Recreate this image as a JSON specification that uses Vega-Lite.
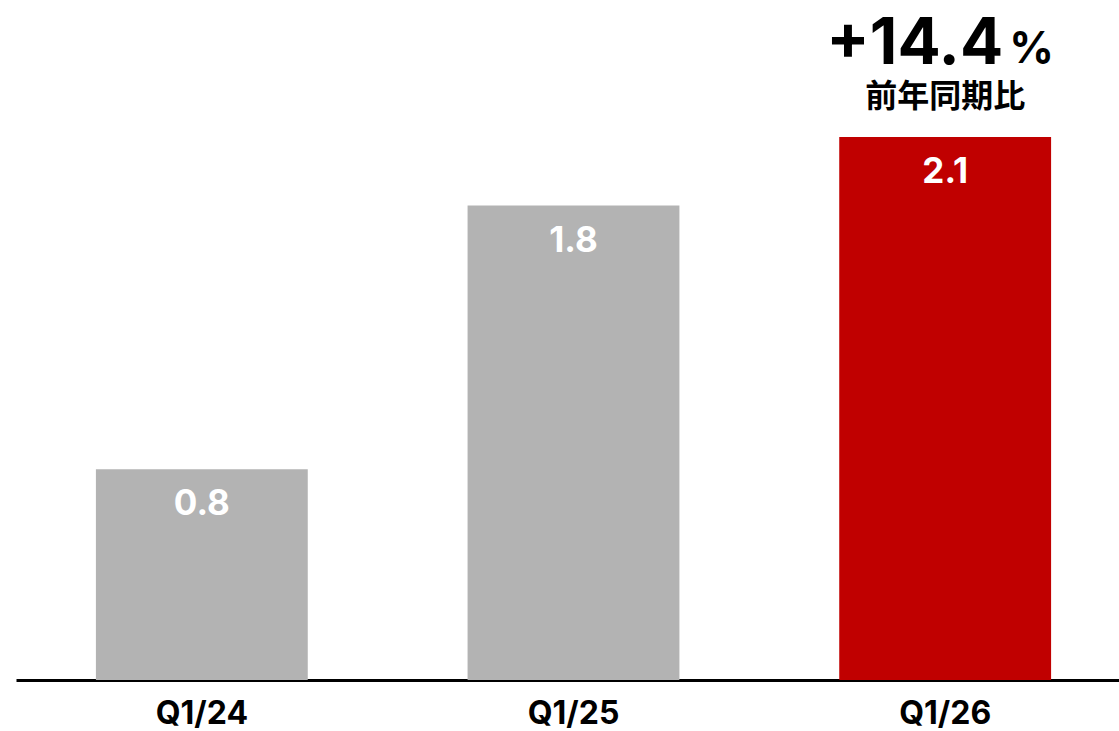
{
  "$schema": "https://vega.github.io/schema/vega-lite/v6.json",
  "width": 1115,
  "height": 680,
  "autosize": {"type": "none"},
  "padding": {"left": 16, "top": 0, "right": 0, "bottom": 51},
  "background": "white",
  "config": {"view": {"stroke": null}, "font": "Inter"},
  "data": {
    "values": [
      {"quarter": "Q1/24", "value": 0.8, "label": "0.8", "highlight": "no", "change": "", "pct": "", "note": ""},
      {"quarter": "Q1/25", "value": 1.8, "label": "1.8", "highlight": "no", "change": "", "pct": "", "note": ""},
      {"quarter": "Q1/26", "value": 2.06, "label": "2.1", "highlight": "yes", "change": "+14.4", "pct": "%", "note": "前年同期比"}
    ]
  },
  "encoding": {
    "x": {
      "field": "quarter",
      "type": "nominal",
      "sort": null,
      "scale": {"paddingInner": 0.43, "paddingOuter": 0.215},
      "axis": {
        "title": null,
        "labelAngle": 0,
        "ticks": false,
        "domainColor": "black",
        "domainWidth": 3,
        "labelFontSize": 32,
        "labelFontWeight": "bold",
        "labelColor": "black",
        "labelBaseline": "alphabetic",
        "labelPadding": 43,
        "labelFont": "Inter"
      }
    },
    "y": {
      "field": "value",
      "type": "quantitative",
      "scale": {"domain": [0, 2.58], "nice": false, "zero": true},
      "axis": null
    }
  },
  "layer": [
    {
      "mark": {"type": "bar"},
      "encoding": {
        "color": {
          "field": "highlight",
          "type": "nominal",
          "scale": {"domain": ["no", "yes"], "range": ["#b3b3b3", "#c00000"]},
          "legend": null
        }
      }
    },
    {
      "mark": {"type": "text", "color": "white", "fontSize": 35, "fontWeight": "bold", "baseline": "top", "dy": 18},
      "encoding": {"text": {"field": "label"}}
    },
    {
      "transform": [{"filter": "datum.highlight == 'yes'"}],
      "mark": {"type": "text", "color": "black", "fontSize": 64, "fontWeight": "bold", "align": "right", "baseline": "alphabetic", "dx": 58, "dy": -73},
      "encoding": {"text": {"field": "change"}}
    },
    {
      "transform": [{"filter": "datum.highlight == 'yes'"}],
      "mark": {"type": "text", "color": "black", "fontSize": 44, "fontWeight": "bold", "align": "left", "baseline": "alphabetic", "dx": 64, "dy": -74},
      "encoding": {"text": {"field": "pct"}}
    },
    {
      "transform": [{"filter": "datum.highlight == 'yes'"}],
      "mark": {"type": "text", "color": "black", "fontSize": 32, "fontWeight": "bold", "align": "center", "baseline": "alphabetic", "dy": -30, "font": "Noto Sans CJK JP"},
      "encoding": {"text": {"field": "note"}}
    }
  ]
}
